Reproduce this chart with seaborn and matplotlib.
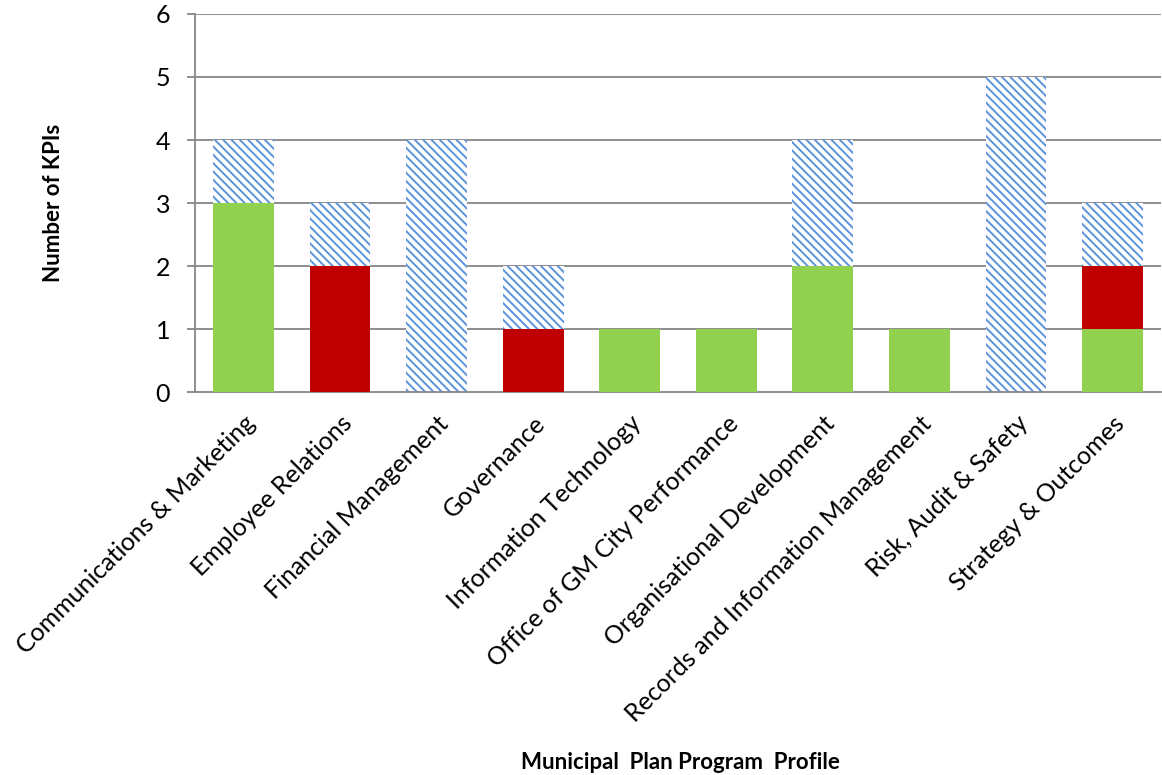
import matplotlib
matplotlib.use("Agg")
import matplotlib.pyplot as plt
import seaborn as sns
import pandas as pd
import numpy as np

categories = ["Communications & Marketing", "Employee Relations", "Financial Management",
              "Governance", "Information Technology", "Office of GM City Performance",
              "Organisational Development", "Records and Information Management",
              "Risk, Audit & Safety", "Strategy & Outcomes"]
green = [3, 0, 0, 0, 1, 1, 2, 1, 0, 1]
red = [0, 2, 0, 1, 0, 0, 0, 0, 0, 1]
hatched = [1, 1, 4, 1, 0, 0, 2, 0, 5, 1]
yticks = [0, 1, 2, 3, 4, 5, 6]

sns.set_theme(style="white")
plt.rcParams['font.family'] = ['Lato', 'DejaVu Sans']
plt.rcParams['hatch.linewidth'] = 1.4
plt.rcParams['text.color'] = 'black'

df = pd.DataFrame({"cat": categories, "green": green, "red": red, "hatched": hatched})
df["gr"] = df["green"] + df["red"]
df["total"] = df["gr"] + df["hatched"]

fig = plt.figure(figsize=(11.62, 7.75), dpi=100)
ax = fig.add_axes([0.168, 0.494, 0.831, 0.488])

for y in yticks[1:]:
    ax.axhline(y, color="#868686", lw=1.3, zorder=0)

sns.barplot(data=df, x="cat", y="total", color="white", edgecolor="#5B93DB",
            hatch="\\\\\\\\", linewidth=0, width=0.63, ax=ax, saturation=1, zorder=2)
sns.barplot(data=df, x="cat", y="gr", color="#C00000", linewidth=0, width=0.63,
            ax=ax, saturation=1, zorder=3)
sns.barplot(data=df, x="cat", y="green", color="#92D050", linewidth=0, width=0.63,
            ax=ax, saturation=1, zorder=4)

ax.set_ylim(0, 6)
ax.set_xlim(-0.5, 9.5)
ax.set_yticks(yticks)
ax.tick_params(axis="y", left=True, length=6, width=1.3, color="#868686",
               labelsize=18, pad=12, labelcolor="black")
ax.tick_params(axis="x", bottom=False, labelsize=18, pad=8, labelcolor="black")
ax.set_xticks(range(len(categories)))
ax.set_xticklabels(categories, rotation=45, ha="right", rotation_mode="anchor")
for s in ["top", "right"]:
    ax.spines[s].set_visible(False)
ax.spines["left"].set_color("#868686")
ax.spines["left"].set_linewidth(1.3)
ax.spines["bottom"].set_color("#868686")
ax.spines["bottom"].set_linewidth(1.3)
ax.set_ylabel("Number of KPIs", fontsize=16, fontweight="bold", labelpad=66, color="black")
ax.set_xlabel("")
fig.text(0.586, 0.008, "Municipal  Plan Program  Profile", ha="center",
         fontsize=16, fontweight="bold", color="black")

fig.savefig("out.png", dpi=100)
